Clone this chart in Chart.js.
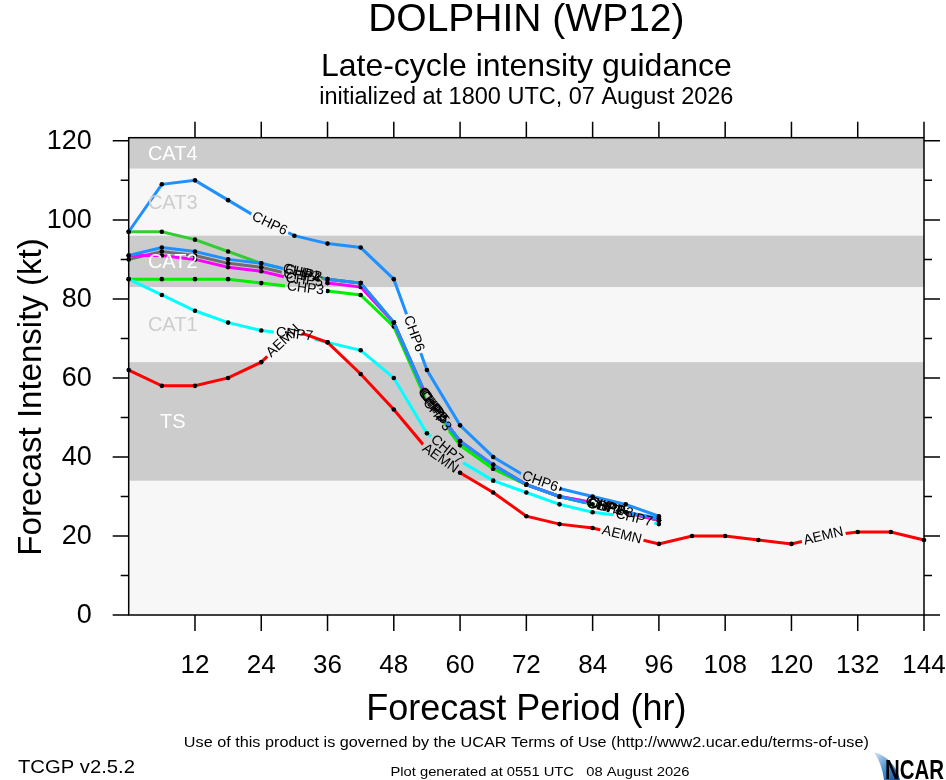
<!DOCTYPE html>
<html><head><meta charset="utf-8">
<script src="https://cdn.jsdelivr.net/npm/chart.js@4.4.1/dist/chart.umd.min.js"></script>
<style>html,body{margin:0;padding:0;background:#fff;}#wrap{width:946px;height:780px;}canvas{display:block;}</style>
</head><body><div id="wrap"><canvas id="c" width="946" height="780"></canvas></div>
<script>
// ---------------- data ----------------
const HOURS = [0,6,12,18,24,30,36,42,48,54,60,66,72,78,84,90,96];
const AEMN_HOURS = [0,6,12,18,24,30,36,42,48,54,60,66,72,78,84,90,96,102,108,114,120,126,132,138,144];
const CHP6 = [97,109,110,105,100,96,94,93,85,62,48,40,35,32,30,28,25];
const CHP2 = [91,93,92,90,89,87,85,84,74,55,44,38,33,30,28,26,24.5];
const CHP4 = [90,92,91,89,88,86,85,84,74,55,44,38,33,30,28,26,24];
const CHP5 = [91,91,90,88,87,85,84,83,74,55,44,38,33,30,28.5,26,24];
const CHP1 = [97,97,95,92,89,87,85,84,74,55,43,37,33,30,28.5,26,24];
const CHP3 = [85,85,85,85,84,83,82,81,73,54,43,37,33,30,28,26,24];
const CHP7 = [85,81,77,74,72,71,69,67,60,46,39,34,31,28,26,25,23];
const AEMN = [62,58,58,60,64,72,69,61,52,42,36,31,25,23,22,20,18,20,20,19,18,20,21,21,19];

const SERIES_NAMES  = ['AEMN','CHP6','CHP7','CHP2','CHP5','CHP4','CHP3','CHP1'];
const SERIES_COLORS = ['#ff0000','#1e90ff','#00ffff','#1e90ff','#ff00ff','#6e6e6e','#00ee00','#33cc33'];

const BAND_NAMES  = ['TS','CAT1','CAT2','CAT3','CAT4'];
const BAND_LOW    = [34,64,83,96,113];
const BAND_HIGH   = [64,83,96,113,140];
const BAND_SHADED = [true,false,true,false,true];

const Y_TICKS = [0,20,40,60,80,100,120];
const Y_MINOR = [10,30,50,70,90,110];
const X_TICKS = [12,24,36,48,60,72,84,96,108,120,132,144];

const LABEL_TEXT = ['CHP6','CHP6','CHP6',
  'CHP1','CHP2','CHP4','CHP5','CHP3','CHP7','AEMN',
  'CHP1','CHP2','CHP4','CHP5','CHP3','CHP7','AEMN',
  'CHP1','CHP2','CHP4','CHP5','CHP3','CHP7','AEMN','AEMN'];
const LABEL_HOUR = [25.5,51.6,74.5,
  31.2,31.6,31.4,31.8,32.0,30.0,28.0,
  54.8,55.0,55.2,55.4,55.8,57.6,56.4,
  86.0,86.4,86.2,86.6,88.0,91.5,89.3,125.8];

const TITLE1 = 'DOLPHIN (WP12)';
const TITLE2 = 'Late-cycle intensity guidance';
const TITLE3 = 'initialized at 1800 UTC, 07 August 2026';
const X_TITLE = 'Forecast Period (hr)';
const Y_TITLE = 'Forecast Intensity (kt)';
const FOOT1 = 'Use of this product is governed by the UCAR Terms of Use (http://www2.ucar.edu/terms-of-use)';
const FOOT2 = 'TCGP v2.5.2';
const FOOT3 = 'Plot generated at 0551 UTC   08 August 2026';

// ---------------- helpers ----------------
const FONT = '"Liberation Sans", Arial, Helvetica, sans-serif';
function drawText(ctx, s, x, y, size, o) {
  o = o || {};
  ctx.save();
  ctx.font = (o.weight ? o.weight + ' ' : '') + size + 'px ' + FONT;
  ctx.fillStyle = o.color || '#000';
  ctx.textBaseline = o.baseline || 'alphabetic';
  ctx.textAlign = o.align || 'center';
  let sx = 1;
  if (o.width) sx = o.width / ctx.measureText(s).width;
  ctx.translate(x, y);
  if (o.rot) ctx.rotate(o.rot);
  ctx.scale(sx, 1);
  ctx.fillText(s, 0, 0);
  ctx.restore();
}

const SERIES_VALUES = {AEMN, CHP6, CHP7, CHP2, CHP5, CHP4, CHP3, CHP1};
const datasets = SERIES_NAMES.map((n, i) => {
  const hrs = n === 'AEMN' ? AEMN_HOURS : HOURS;
  return {
    label: n,
    data: hrs.map((h, k) => ({x: h, y: SERIES_VALUES[n][k]})),
    borderColor: SERIES_COLORS[i],
    backgroundColor: SERIES_COLORS[i],
    borderWidth: 3,
    pointRadius: 2.3,
    pointBackgroundColor: '#000',
    pointBorderColor: '#000',
    pointBorderWidth: 0,
    tension: 0,
    fill: false,
    clip: false
  };
});

const LABEL_SIZE = 14;
function labelGeom(chart, k) {
  const name = LABEL_TEXT[k], hr = LABEL_HOUR[k];
  const ds = chart.data.datasets.find(d => d.label === name);
  const pts = ds.data;
  let j = 0;
  for (let i = 0; i < pts.length - 1; i++) { if (pts[i].x <= hr && pts[i + 1].x >= hr) { j = i; break; } }
  const xs = chart.scales.x, ys = chart.scales.y;
  const x0 = xs.getPixelForValue(pts[j].x), y0 = ys.getPixelForValue(pts[j].y);
  const x1 = xs.getPixelForValue(pts[j + 1].x), y1 = ys.getPixelForValue(pts[j + 1].y);
  const t = (hr - pts[j].x) / (pts[j + 1].x - pts[j].x);
  const ctx = chart.ctx;
  ctx.save(); ctx.font = LABEL_SIZE + 'px ' + FONT; const w = ctx.measureText(name).width; ctx.restore();
  return {name, x: x0 + t * (x1 - x0), y: y0 + t * (y1 - y0), ang: Math.atan2(y1 - y0, x1 - x0), w};
}

const lineLabelPlugin = {
  id: 'lineLabels',
  beforeDatasetDraw(chart, args) {
    const ctx = chart.ctx;
    const name = chart.data.datasets[args.index].label;
    ctx.save();
    ctx.beginPath();
    ctx.rect(0, 0, chart.width, chart.height);
    LABEL_TEXT.forEach((t, k) => {
      if (t !== name) return;
      const g = labelGeom(chart, k);
      const hw = g.w / 2 + 2, hh = 7;
      const c = Math.cos(g.ang), s = Math.sin(g.ang);
      const corners = [[-hw, -hh], [hw, -hh], [hw, hh], [-hw, hh]].map(([a, b]) => [g.x + a * c - b * s, g.y + a * s + b * c]);
      ctx.moveTo(corners[0][0], corners[0][1]);
      for (let i = 1; i < 4; i++) ctx.lineTo(corners[i][0], corners[i][1]);
      ctx.closePath();
    });
    ctx.clip('evenodd');
  },
  afterDatasetDraw(chart) { chart.ctx.restore(); },
  afterDatasetsDraw(chart) {
    const ctx = chart.ctx;
    LABEL_TEXT.forEach((t, k) => {
      const g = labelGeom(chart, k);
      drawText(ctx, g.name, g.x, g.y, LABEL_SIZE, {baseline: 'middle', rot: g.ang});
    });
  }
};

const bandPlugin = {
  id: 'bands',
  beforeDatasetsDraw(chart) {
    const {ctx, chartArea: a, scales: {y}} = chart;
    ctx.save();
    ctx.fillStyle = '#f7f7f7';
    ctx.fillRect(a.left, a.top, a.width, a.height);
    BAND_NAMES.forEach((n, i) => {
      if (!BAND_SHADED[i]) return;
      const top = y.getPixelForValue(Math.min(BAND_HIGH[i], y.max));
      const bot = y.getPixelForValue(BAND_LOW[i]);
      ctx.fillStyle = '#cccccc';
      ctx.fillRect(a.left, top, a.width, bot - top);
    });
    ctx.restore();
  },
  afterDatasetsDraw(chart) {
    const {ctx, chartArea: a, scales: {y}} = chart;
    BAND_NAMES.forEach((n, i) => {
      const top = y.getPixelForValue(Math.min(BAND_HIGH[i], y.max));
      const bot = y.getPixelForValue(BAND_LOW[i]);
      drawText(ctx, n, a.left + 44, (top + bot) / 2 + 1, 20, {baseline: 'middle', color: BAND_SHADED[i] ? '#ffffff' : '#cdcdcd'});
    });
  }
};

const framePlugin = {
  id: 'frame',
  afterDraw(chart) {
    const {ctx, chartArea: a, scales: {x, y}} = chart;
    ctx.save();
    ctx.strokeStyle = '#000';
    ctx.lineWidth = 1.5;
    ctx.strokeRect(a.left, a.top, a.width, a.height);
    ctx.beginPath();
    const tick = (v, len) => {
      const py = y.getPixelForValue(v);
      ctx.moveTo(a.left - len, py); ctx.lineTo(a.left, py);
      ctx.moveTo(a.right, py); ctx.lineTo(a.right + len, py);
    };
    Y_TICKS.forEach(v => tick(v, 16));
    Y_MINOR.forEach(v => tick(v, 8));
    X_TICKS.forEach(h => {
      const px = x.getPixelForValue(h);
      ctx.moveTo(px, a.bottom); ctx.lineTo(px, a.bottom + 16);
      ctx.moveTo(px, a.top - 16); ctx.lineTo(px, a.top);
    });
    ctx.stroke();
    ctx.restore();
    Y_TICKS.forEach(v => drawText(ctx, String(v), a.left - 37, y.getPixelForValue(v) + 1, 27, {align: 'right', baseline: 'middle'}));
    X_TICKS.forEach(h => drawText(ctx, String(h), x.getPixelForValue(h), 673, 26, {}));

    const cx = (a.left + a.right) / 2;
    drawText(ctx, TITLE1, cx, 31, 39, {});
    drawText(ctx, TITLE2, cx, 76, 32, {});
    drawText(ctx, TITLE3, cx, 104, 23.5, {});
    drawText(ctx, X_TITLE, cx, 720, 36, {});
    drawText(ctx, Y_TITLE, 41, 397, 33, {rot: -Math.PI / 2});
    drawText(ctx, FOOT1, cx, 747, 15, {width: 685});
    drawText(ctx, FOOT2, 18, 773, 19, {align: 'left', width: 117});
    drawText(ctx, FOOT3, 540, 776, 13, {width: 299});

    // NCAR logo
    ctx.save();
    const gr = ctx.createLinearGradient(872, 752, 904, 780);
    gr.addColorStop(0, '#e4eef8'); gr.addColorStop(0.5, '#4a90d0'); gr.addColorStop(1, '#0b3c8c');
    ctx.fillStyle = gr;
    ctx.beginPath();
    ctx.moveTo(874, 752); ctx.quadraticCurveTo(894, 758, 900, 780); ctx.lineTo(884, 780);
    ctx.quadraticCurveTo(882, 764, 874, 752); ctx.closePath(); ctx.fill();
    ctx.restore();
    drawText(ctx, 'NCAR', 885, 779, 27, {align: 'left', weight: 'bold', width: 59});
  }
};

new Chart(document.getElementById('c'), {
  type: 'line',
  data: {datasets},
  options: {
    responsive: false,
    animation: false,
    devicePixelRatio: 1,
    layout: {padding: {top: 137.7, right: 22, left: 0, bottom: 0}},
    plugins: {legend: {display: false}, tooltip: {enabled: false}, title: {display: false}},
    scales: {
      x: {type: 'linear', min: 0, max: 144, grid: {display: false}, border: {display: false},
          ticks: {display: false}, afterFit(s) { s.height = 165; }},
      y: {type: 'linear', min: 0, max: 120.8, grid: {display: false}, border: {display: false},
          ticks: {display: false}, afterFit(s) { s.width = 128.7; }}
    }
  },
  plugins: [bandPlugin, lineLabelPlugin, framePlugin]
});
</script>
</body></html>
